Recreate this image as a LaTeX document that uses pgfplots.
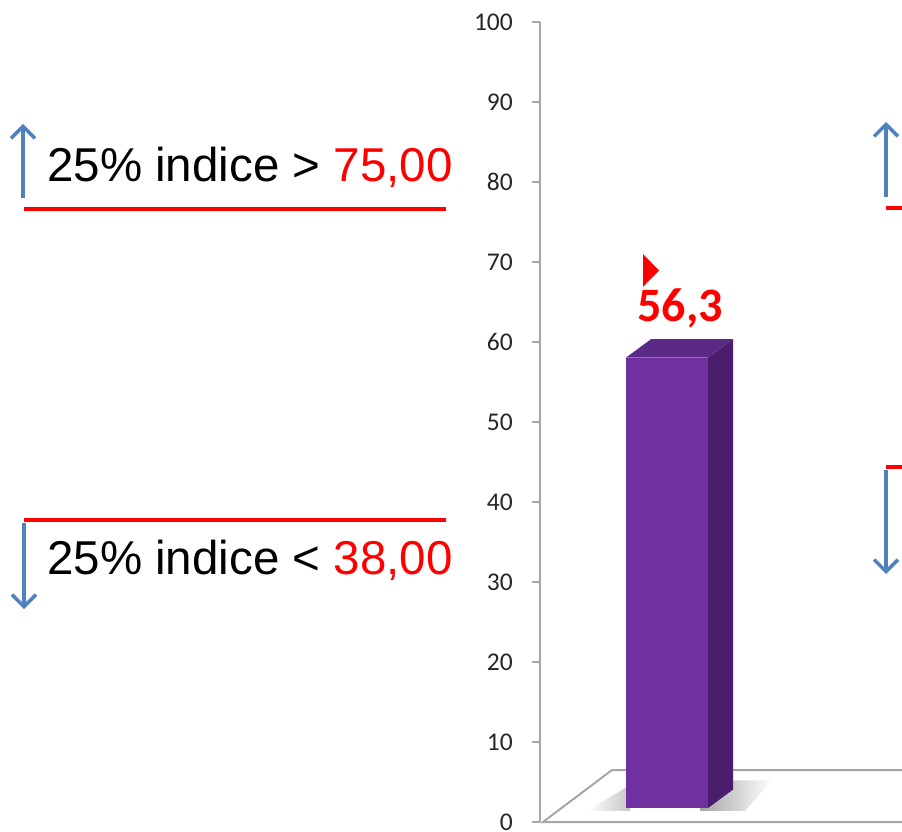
\documentclass[border=0pt]{standalone}
\usepackage{pgfplots}
\pgfplotsset{compat=1.18}
\usepackage{fontspec}
\setmainfont{Liberation Sans}
\newfontfamily\calibri{Carlito}
\usetikzlibrary{arrows.meta}
\definecolor{barfront}{HTML}{7030A0}
\definecolor{barside}{HTML}{4A1E6C}
\definecolor{bartop}{HTML}{5A2A86}
\definecolor{axgray}{HTML}{A6A6A6}
\definecolor{arrowblue}{HTML}{4F81BD}
\definecolor{tickgray}{HTML}{262626}
\begin{document}
\begin{tikzpicture}[x=1pt,y=1pt]
\useasboundingbox (0,0) rectangle (902,831);
\clip (0,0) rectangle (902,831);
% main axis
\begin{axis}[
  at={(540pt,9pt)}, anchor=south west, scale only axis,
  width=362pt, height=800pt,
  xmin=540, xmax=902, ymin=0, ymax=100, clip=false,
  axis x line=none, axis y line*=left,
  y axis line style={draw=axgray, line width=2pt, -},
  ytick={0,10,...,100}, tick align=outside, major tick length=8pt,
  ytick style={draw=axgray, line width=2pt},
  yticklabel style={font=\calibri\fontsize{25.5}{30}\selectfont, text=tickgray, inner sep=0pt, xshift=-19pt},
  /pgf/number format/assume math mode=true,
]
% floor
\addplot[draw=none, fill=white] coordinates {(543,0) (612,6.5) (902,6.5) (902,0)} -- cycle;
\addplot[draw=axgray, line width=2pt] coordinates {(902,0) (543,0) (612,6.5) (902,6.5)};
% shadow
\shade[left color=white, right color=gray!45] (axis cs:587,1.4) -- (axis cs:630,1.4) -- (axis cs:630,4.6) -- cycle;
\shade[left color=gray!70, right color=white] (axis cs:700,1.4) -- (axis cs:745,1.4) -- (axis cs:772,5.2) -- (axis cs:700,5.2) -- cycle;
% red marker
\addplot[draw=none, fill=red] coordinates {(643,71) (659,68.94) (643,66.9)} -- cycle;
\end{axis}
% bar axis (3D bar, front face from floor level)
\begin{axis}[
  at={(540pt,9pt)}, anchor=south west, scale only axis,
  width=362pt, height=800pt,
  xmin=540, xmax=902, ymin=-1.75, ymax=98.25, clip=false, hide axis,
]
\addplot[ybar, bar width=82pt, fill=barfront, draw=none] coordinates {(667,56.3)};
\addplot[draw=none, fill=barside] coordinates {(708,0) (733,2.3) (733,58.6) (708,56.3)} -- cycle;
\addplot[draw=none, fill=bartop] coordinates {(626,56.3) (708,56.3) (733,58.6) (651,58.6)} -- cycle;
\node[anchor=base, inner sep=0pt, yshift=36pt, text=red, font=\calibri\bfseries\fontsize{48}{56}\selectfont] at (axis cs:680,56.3) {56,3};
\end{axis}
% left annotations
\draw[red, line width=4pt] (24,622) -- (446,622);
\draw[red, line width=4pt] (24,311) -- (446,311);
\draw[arrowblue, line width=3.5pt, -{Straight Barb[length=12pt,width=24pt]}] (23,633) -- (23,707);
\draw[arrowblue, line width=3.5pt, -{Straight Barb[length=12pt,width=24pt]}] (24,308) -- (24,222);
\node[anchor=base west, inner sep=0pt, font=\fontsize{47.5}{57}\selectfont] at (47,649) {25\% indice > \textcolor{red}{75,00}};
\node[anchor=base west, inner sep=0pt, font=\fontsize{47.5}{57}\selectfont] at (47,257) {25\% indice < \textcolor{red}{38,00}};
% right side (cut off)
\draw[red, line width=4pt] (886,623) -- (910,623);
\draw[red, line width=4pt] (886,364) -- (910,364);
\draw[arrowblue, line width=3.5pt, -{Straight Barb[length=12pt,width=24pt]}] (886,634) -- (886,709);
\draw[arrowblue, line width=3.5pt, -{Straight Barb[length=12pt,width=24pt]}] (886,361) -- (886,257);
\end{tikzpicture}
\end{document}
